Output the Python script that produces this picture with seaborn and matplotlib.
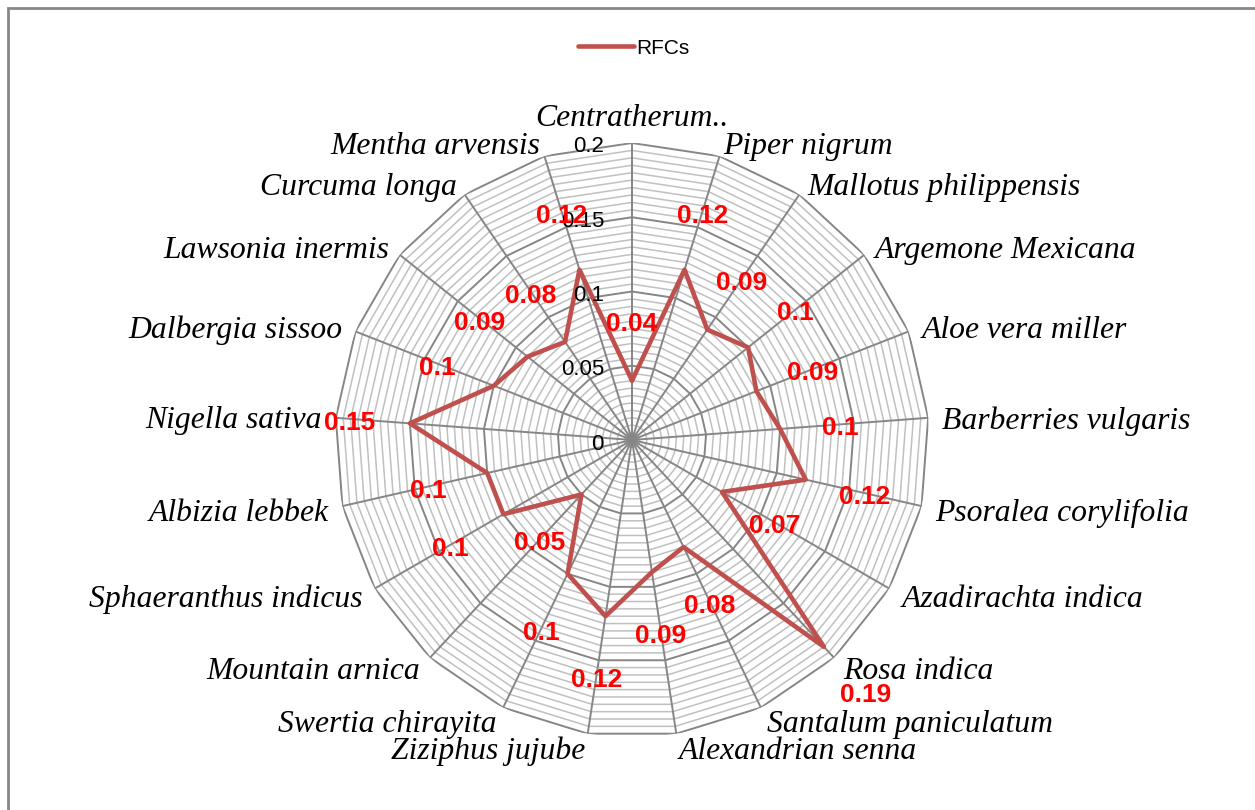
import numpy as np
import pandas as pd
import seaborn as sns
import matplotlib.pyplot as plt
from matplotlib.lines import Line2D
from matplotlib.patches import Rectangle

plants = ["Centratherum..", "Piper nigrum", "Mallotus philippensis", "Argemone Mexicana",
          "Aloe vera miller", "Barberries vulgaris", "Psoralea corylifolia", "Azadirachta indica",
          "Rosa indica", "Santalum paniculatum", "Alexandrian senna", "Ziziphus jujube",
          "Swertia chirayita", "Mountain arnica", "Sphaeranthus indicus", "Albizia lebbek",
          "Nigella sativa", "Dalbergia sissoo", "Lawsonia inermis", "Curcuma longa",
          "Mentha arvensis"]
rfc = [0.04, 0.12, 0.09, 0.1, 0.09, 0.1, 0.12, 0.07, 0.19, 0.08, 0.09, 0.12,
       0.1, 0.05, 0.1, 0.1, 0.15, 0.1, 0.09, 0.08, 0.12]
rfc_labels = ["0.04", "0.12", "0.09", "0.1", "0.09", "0.1", "0.12", "0.07", "0.19", "0.08",
              "0.09", "0.12", "0.1", "0.05", "0.1", "0.1", "0.15", "0.1", "0.09", "0.08", "0.12"]
major_ticks = [0, 0.05, 0.1, 0.15, 0.2]
major_labels = ["0", "0.05", "0.1", "0.15", "0.2"]

sns.set_theme(style="white")
plt.rcParams['font.family'] = ['Liberation Sans', 'DejaVu Sans']
plt.rcParams['text.color'] = 'black'

n = len(plants)
angles = np.linspace(0, 2 * np.pi, n, endpoint=False)
ang_closed = np.append(angles, angles[0] + 2 * np.pi)

fig = plt.figure(figsize=(12.55, 8.1), dpi=100)
W, H = 1255, 810
cx, cy, R = 632, 440, 297
ax = fig.add_axes([(cx - R) / W, 1 - (cy + R) / H, 2 * R / W, 2 * R / H], projection="polar")
ax.set_theta_offset(np.pi / 2)
ax.set_theta_direction(-1)
ax.set_ylim(0, 0.2)
ax.grid(False)
ax.set_xticks([])
ax.set_yticks([])
ax.spines["polar"].set_visible(False)
ax.patch.set_alpha(0)

# grid rings (minor every 0.005, major every 0.05)
for r in np.arange(0.005, 0.2001, 0.005):
    is_major = abs(r / 0.05 - round(r / 0.05)) < 1e-6
    ax.plot(ang_closed, [r] * len(ang_closed),
            color="#868686" if is_major else "#c0c0c0",
            lw=1.4 if is_major else 1.1, zorder=1 if is_major else 0.5)
for a in angles:
    ax.plot([a, a], [0, 0.2], color="#868686", lw=1.4, zorder=1)

df = pd.DataFrame({"angle": ang_closed, "rfc": rfc + rfc[:1]})
sns.lineplot(data=df, x="angle", y="rfc", sort=False, estimator=None, ax=ax,
             color="#C0504D", lw=3.3, zorder=3, legend=False)
ax.set_xlabel("")
ax.set_ylabel("")

dy = -4  # small downward nudge for all texts, in pixels

# radial tick labels
for t, lab in zip(major_ticks, major_labels):
    ax.annotate(lab, xy=(0, t), xytext=(-28, dy), textcoords="offset pixels",
                ha="right", va="center", fontsize=16, color="black", zorder=4)

# category labels
for a, name in zip(angles, plants):
    s = np.sin(a)
    if abs(s) < 0.05:
        ha, va = "center", "bottom"
    elif s > 0:
        ha, va = "left", "center"
    else:
        ha, va = "right", "center"
    ax.annotate(name, xy=(a, 0.2094), xytext=(0, dy), textcoords="offset pixels",
                ha=ha, va=va, fontsize=22.8, style="italic",
                family="Liberation Serif", color="black", annotation_clip=False)

# data labels
for a, v, lab in zip(angles, rfc, rfc_labels):
    ax.annotate(lab, xy=(a, v + 0.041), xytext=(0, dy), textcoords="offset pixels",
                ha="center", va="center", fontsize=19, fontweight="bold",
                color="#FF0000", annotation_clip=False, zorder=5)

handle = Line2D([], [], color="#C0504D", lw=3.3, solid_capstyle="round")
fig.legend([handle], ["RFCs"], loc="center", bbox_to_anchor=(634 / W, 1 - 48 / H),
           frameon=False, fontsize=15, handlelength=2.7, handletextpad=0.1,
           labelcolor="black")

# outer border (left and top only visible)
fig.patches.append(Rectangle((8 / W, -0.1), 1.2, 1 - 8 / H + 0.1, transform=fig.transFigure,
                             fill=False, edgecolor="#888888", lw=2))

fig.savefig("out.png", dpi=100, facecolor="white")
